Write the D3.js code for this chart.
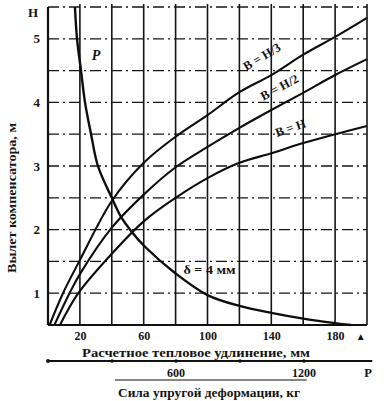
<!DOCTYPE html>
<html>
<head>
<meta charset="utf-8">
<script src="https://cdn.jsdelivr.net/npm/d3@7"></script>
<style>
body { margin: 0; background: #fff; }
svg { display: block; }
text { font-family: "Liberation Serif", "DejaVu Serif", serif; fill: #141414; font-weight: bold; }
</style>
</head>
<body>
<svg id="chart" width="387" height="401"></svg>
<script>
// tick labels
var xTicks = [20, 60, 100, 140, 180];
var yTicks = [1, 2, 3, 4, 5];
var pTicks = [600, 1200];
var pDots = [300, 600, 900, 1200];

// B curves: [удлинение мм, вылет м]
var curveH3 = [[1,0.5],[9.4,1.0],[20,1.52],[40,2.45],[60,3.05],[80,3.46],[100,3.80],[120,4.16],[140,4.43],[160,4.75],[180,5.03],[200,5.33]];
var curveH2 = [[4,0.5],[13.5,1.0],[20,1.3],[40,2.03],[60,2.55],[80,2.98],[100,3.30],[120,3.60],[140,3.88],[160,4.15],[180,4.43],[200,4.68]];
var curveH  = [[7.5,0.5],[19,1.0],[40,1.62],[60,2.13],[80,2.50],[100,2.81],[120,3.05],[140,3.20],[160,3.36],[180,3.50],[200,3.63]];
// P curve (delta = 4 mm)
var curveP = [[16.9,5.5],[18.2,5.0],[20.7,4.5],[23.2,4.0],[27,3.5],[31.3,3.0],[40,2.5],[45.8,2.2],[52.7,1.96],[60.8,1.73],[80,1.31],[100,0.97],[120,0.80],[140,0.69],[160,0.60],[180,0.53],[190,0.5]];

var svg = d3.select("#chart");

var x = d3.scaleLinear().domain([0, 200]).range([48, 367]);
var y = d3.scaleLinear().domain([0.5, 5.5]).range([325, 7]);
var p = d3.scaleLinear().domain([0, 1500]).range([48, 368]);

// grid
var grid = svg.append("g");
grid.selectAll("line.v")
    .data(d3.range(20, 201, 20))
    .join("line")
    .attr("x1", d => x(d)).attr("x2", d => x(d))
    .attr("y1", y(5.5) - 3).attr("y2", y(0.5))
    .attr("stroke", "#151515").attr("stroke-width", 1.6);
grid.selectAll("line.h")
    .data(d3.range(1, 5.51, 0.5))
    .join("line")
    .attr("x1", x(0)).attr("x2", x(200))
    .attr("y1", d => y(d)).attr("y2", d => y(d))
    .attr("stroke", "#151515").attr("stroke-width", 1.3)
    .attr("stroke-dasharray", "11,4,2,4");

// axes lines
svg.append("line")
    .attr("x1", x(0)).attr("x2", x(0))
    .attr("y1", y(5.5)).attr("y2", y(0.5))
    .attr("stroke", "#111").attr("stroke-width", 2.2);
svg.append("line")
    .attr("x1", x(0)).attr("x2", x(200))
    .attr("y1", y(0.5)).attr("y2", y(0.5))
    .attr("stroke", "#111").attr("stroke-width", 2.2);

// curves
var line = d3.line()
    .x(d => x(d[0]))
    .y(d => y(d[1]))
    .curve(d3.curveCatmullRom.alpha(0.5));

svg.selectAll("path.curve")
    .data([curveH3, curveH2, curveH])
    .join("path")
    .attr("d", line)
    .attr("fill", "none")
    .attr("stroke", "#0d0d0d")
    .attr("stroke-width", 2.1);

svg.append("path")
    .attr("d", line(curveP))
    .attr("fill", "none")
    .attr("stroke", "#0d0d0d")
    .attr("stroke-width", 2.4);

// x axis labels
var xAxis = d3.axisBottom(x).tickValues(xTicks).tickSize(0).tickPadding(6);
svg.append("g")
    .attr("transform", `translate(0,${y(0.5)})`)
    .call(xAxis)
    .call(g => g.select(".domain").remove())
    .selectAll("text")
    .attr("font-size", 12)
    .attr("font-family", "Liberation Serif")
    .attr("font-weight", "bold")
    .attr("fill", "#141414");

svg.append("text")
    .attr("x", x(196)).attr("y", 340)
    .attr("text-anchor", "middle")
    .attr("font-size", 10)
    .text("▲");

svg.append("text")
    .attr("x", 82).attr("y", 357)
    .attr("font-size", 12.5)
    .attr("textLength", 228)
    .attr("lengthAdjust", "spacingAndGlyphs")
    .text("Расчетное тепловое удлинение, мм");

// y axis labels
var yAxis = d3.axisLeft(y).tickValues(yTicks).tickFormat(d3.format("d")).tickSize(0).tickPadding(8);
svg.append("g")
    .attr("transform", `translate(${x(0)},0)`)
    .call(yAxis)
    .call(g => g.select(".domain").remove())
    .selectAll("text")
    .attr("font-size", 13)
    .attr("font-family", "Liberation Serif")
    .attr("font-weight", "bold")
    .attr("fill", "#141414");

svg.append("text")
    .attr("x", 33).attr("y", y(5.5) + 10)
    .attr("text-anchor", "middle")
    .attr("font-size", 13)
    .text("H");

svg.append("text")
    .attr("transform", "translate(16,198) rotate(-90)")
    .attr("text-anchor", "middle")
    .attr("font-size", 12.5)
    .attr("textLength", 150)
    .attr("lengthAdjust", "spacingAndGlyphs")
    .text("Вылет компенсатора, м");

// force scale
svg.append("line")
    .attr("x1", p(0)).attr("x2", p(1520))
    .attr("y1", 361).attr("y2", 361)
    .attr("stroke", "#111").attr("stroke-width", 1.8);
svg.selectAll("circle.pd")
    .data(pDots)
    .join("circle")
    .attr("cx", d => p(d)).attr("cy", 361)
    .attr("r", 1.8)
    .attr("fill", "#111");
svg.append("circle")
    .attr("cx", p(0)).attr("cy", 361).attr("r", 2).attr("fill", "#111");

svg.selectAll("text.pt")
    .data(pTicks)
    .join("text")
    .attr("x", d => p(d))
    .attr("y", 377)
    .attr("text-anchor", "middle")
    .attr("font-size", 12)
    .text(d => d);

svg.append("line")
    .attr("x1", p(314)).attr("x2", p(1213))
    .attr("y1", 380).attr("y2", 380)
    .attr("stroke", "#111").attr("stroke-width", 1.2);

svg.append("text")
    .attr("x", p(1500)).attr("y", 377)
    .attr("text-anchor", "middle")
    .attr("font-size", 12.5)
    .text("P");

svg.append("text")
    .attr("x", 118).attr("y", 397)
    .attr("font-size", 12)
    .attr("textLength", 182)
    .attr("lengthAdjust", "spacingAndGlyphs")
    .text("Сила упругой деформации, кг");

// curve labels
var labels = [
    {t: "B = H/3", mm: 134, m: 4.72, a: -31},
    {t: "B = H/2", mm: 145, m: 4.24, a: -28},
    {t: "B = H", mm: 152, m: 3.6, a: -19}
];
svg.selectAll("text.lab")
    .data(labels)
    .join("text")
    .attr("transform", d => `translate(${x(d.mm)},${y(d.m)}) rotate(${d.a})`)
    .attr("text-anchor", "middle")
    .attr("dy", "0.35em")
    .attr("font-size", 12.5)
    .text(d => d.t);

svg.append("text")
    .attr("x", x(27.5)).attr("y", y(4.67))
    .attr("font-size", 14)
    .attr("font-style", "italic")
    .text("P");

svg.append("text")
    .attr("x", x(85)).attr("y", y(1.3))
    .attr("font-size", 12)
    .attr("textLength", 52)
    .attr("lengthAdjust", "spacingAndGlyphs")
    .text("δ = 4 мм");
</script>
</body>
</html>
